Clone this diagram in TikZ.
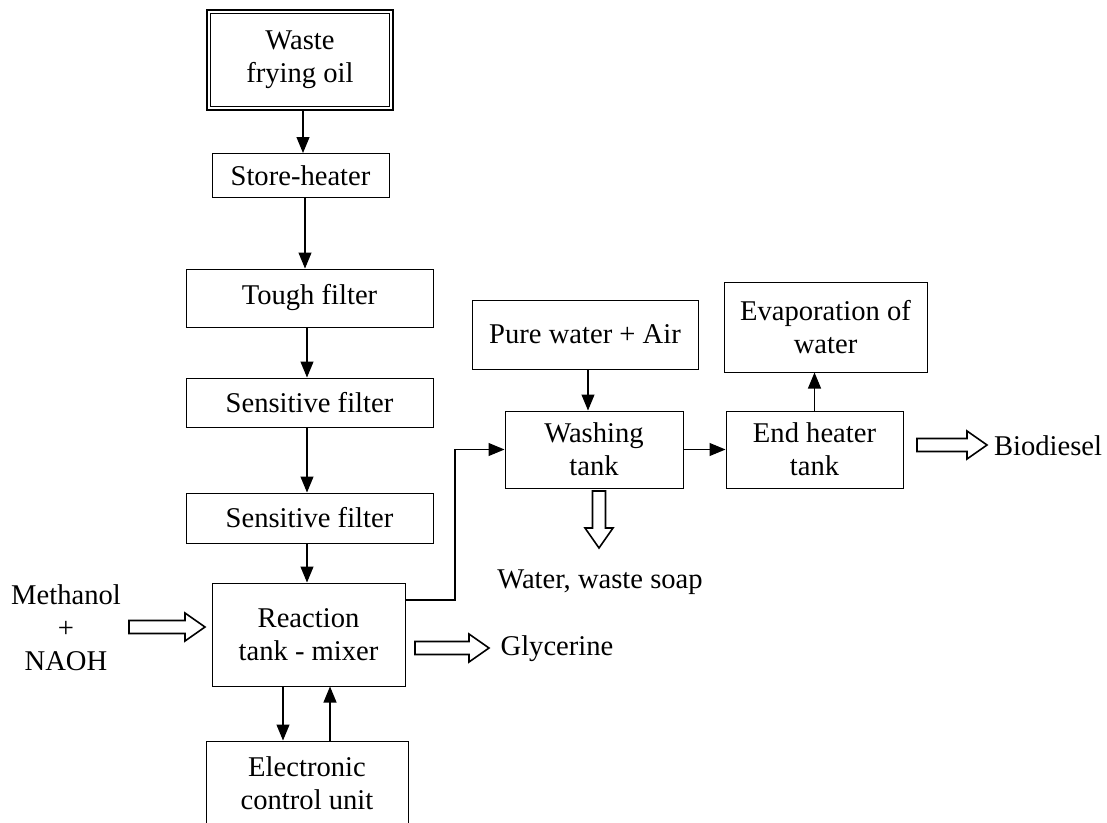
\documentclass[tikz,border=0pt]{standalone}
\usepackage{fontspec}
\setmainfont{Liberation Serif}
\usetikzlibrary{calc,arrows.meta}
\tikzset{
  lbl/.style={font=\fontsize{28.6}{33}\selectfont, align=center, inner sep=0pt, text=black},
  box/.style={lbl, draw=black, line width=1pt},
  arr/.style={line width=1.1pt, -{Triangle[length=16pt,width=13pt]}},
  hollow/.style={draw=black, fill=white, line width=1.6pt, line join=miter},
}
\newcommand{\hollowarrow}[2]{%
  \path coordinate (hh) at ($(#2)!20pt!(#1)$);
  \draw[hollow] ($(#1)!6.5pt!90:(#2)$) -- ($(hh)!6.5pt!90:(#2)$) -- ($(hh)!14pt!90:(#2)$)
     -- (#2) -- ($(hh)!14pt!-90:(#2)$) -- ($(hh)!6.5pt!-90:(#2)$) -- ($(#1)!6.5pt!-90:(#2)$) -- cycle;}
\begin{document}
\begin{tikzpicture}[x=1pt,y=-1pt]
\clip (0,0) rectangle (1107,822);
\fill[white] (0,0) rectangle (1107,822);

% column
\node[box, line width=2.4pt, minimum width=186pt, minimum height=100pt] (waste) at (300,60) {Waste\\frying oil};
\draw[line width=1.2pt] ([shift={(5,5)}]waste.north west) rectangle ([shift={(-5,-5)}]waste.south east);
\node[box, minimum width=177pt, minimum height=44pt] (store) at (300.5,175.5) {Store-heater};
\node[box, minimum width=247pt, minimum height=58pt] (tough) at (309.5,298) {Tough filter};
\node[box, minimum width=247pt, minimum height=49pt] (sens1) at (309.5,402.5) {Sensitive filter};
\node[box, minimum width=247pt, minimum height=50pt] (sens2) at (309.5,518) {Sensitive filter};
\node[box, minimum width=193pt, minimum height=103pt] (react) at (308.5,634.5) {Reaction\\tank - mixer};
\node[box, minimum width=202pt, minimum height=85pt] (ecu) at (307,783.5) {Electronic\\control unit};

\node[lbl] (meth) at (66,628) {Methanol\\+\\NAOH};

% right part
\node[box, minimum width=226pt, minimum height=69pt] (pure) at (585,334.5) {Pure water + Air};
\node[box, minimum width=178pt, minimum height=77pt] (wash) at (594,449.5) {Washing\\tank};
\node[box, minimum width=177pt, minimum height=77pt] (endh) at (814.5,449.5) {End heater\\tank};
\node[box, minimum width=203pt, minimum height=90pt] (evap) at (825.5,327) {Evaporation of\\water};

\node[lbl] (soap) at (600,582) {Water, waste soap};
\node[lbl] (glyc) at (557,649) {Glycerine};
\node[lbl] (bio) at (1048,446) {Biodiesel};

% thin arrows
\draw[arr] ([xshift=3pt]waste.south) -- ([xshift=3pt]waste.south |- store.north);
\draw[arr] ([xshift=4.5pt]store.south) -- ([xshift=4.5pt]store.south |- tough.north);
\draw[arr] ([xshift=-2.5pt]tough.south) -- ([xshift=-2.5pt]tough.south |- sens1.north);
\draw[arr] ([xshift=-2.5pt]sens1.south) -- ([xshift=-2.5pt]sens1.south |- sens2.north);
\draw[arr] ([xshift=-2.5pt]sens2.south) -- ([xshift=-2.5pt]sens2.south |- react.north);
\draw[arr] ([xshift=-25.5pt]react.south) -- ([xshift=-25.5pt]react.south |- ecu.north);
\draw[arr] ([xshift=21.5pt]react.south |- ecu.north) -- ([xshift=21.5pt]react.south);
\coordinate (j1) at (455,600);
\draw[arr] (react.east |- j1) -- (j1) |- (wash.west);
\draw[arr] ([xshift=3pt]pure.south) -- ([xshift=3pt]pure.south |- wash.north);
\draw[arr] (wash.east) -- (endh.west);
\draw[arr] (endh.north) -- (endh.north |- evap.south);

% hollow arrows
\coordinate (m1) at (129,627);
\coordinate (m2) at (205,627);
\hollowarrow{m1}{m2}
\coordinate (g1) at (415,648);
\coordinate (g2) at (489,648);
\hollowarrow{g1}{g2}
\coordinate (w1) at (599,491);
\coordinate (w2) at (599,548);
\hollowarrow{w1}{w2}
\coordinate (b1) at (917,445);
\coordinate (b2) at (987,445);
\hollowarrow{b1}{b2}
\end{tikzpicture}
\end{document}
